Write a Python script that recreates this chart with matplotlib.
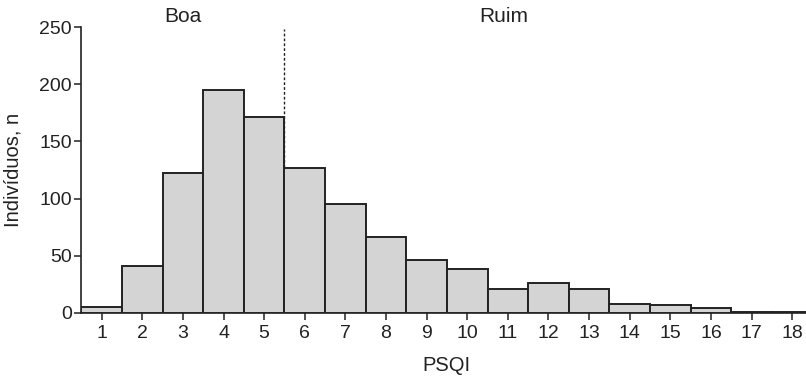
import matplotlib
matplotlib.use("Agg")
import matplotlib.pyplot as plt

# PSQI score categories and counts
psqi_scores = list(range(1, 19))
counts = [5, 41, 122, 195, 171, 127, 95, 66, 46, 38, 21, 26, 21, 8, 7, 4, 1, 1]
cutoff = 5.5
group_labels = ["Boa", "Ruim"]
group_x = [3, 10.9]

plt.rcParams["font.family"] = ["Liberation Sans", "DejaVu Sans"]
ink = "#222222"

fig = plt.figure(figsize=(8.06, 3.76), dpi=100)
ax = fig.add_axes([0.101, 0.168, 0.907, 0.760])

ax.bar(psqi_scores, counts, width=1.0, color="#d4d4d4",
       edgecolor=ink, linewidth=1.4, zorder=3)
ax.plot([cutoff, cutoff], [0, 248], color=ink, lw=1.0,
        linestyle=(0, (2, 1.5)), zorder=2)

ax.set_xlim(0.5, 18.5)
ax.set_ylim(0, 250)
ax.set_xticks(psqi_scores)
ax.set_yticks(range(0, 251, 50))

for side in ["top", "right"]:
    ax.spines[side].set_visible(False)
for side in ["left", "bottom"]:
    ax.spines[side].set_color(ink)
    ax.spines[side].set_linewidth(1.2)

ax.tick_params(axis="both", direction="out", length=5, width=1.1,
               color=ink, labelcolor=ink, labelsize=14)
ax.tick_params(axis="x", pad=4)
ax.tick_params(axis="y", pad=2)

ax.set_xlabel("PSQI", fontsize=14.5, color=ink)
ax.set_ylabel("Indivíduos, n", fontsize=14.5, color=ink)
ax.xaxis.set_label_coords(0.5, -0.150)
ax.yaxis.set_label_coords(-0.080, 0.5)

for lab, gx in zip(group_labels, group_x):
    ax.text(gx, 254, lab, ha="center", va="baseline", fontsize=15,
            color=ink, clip_on=False)

fig.savefig("out.png", dpi=100)
